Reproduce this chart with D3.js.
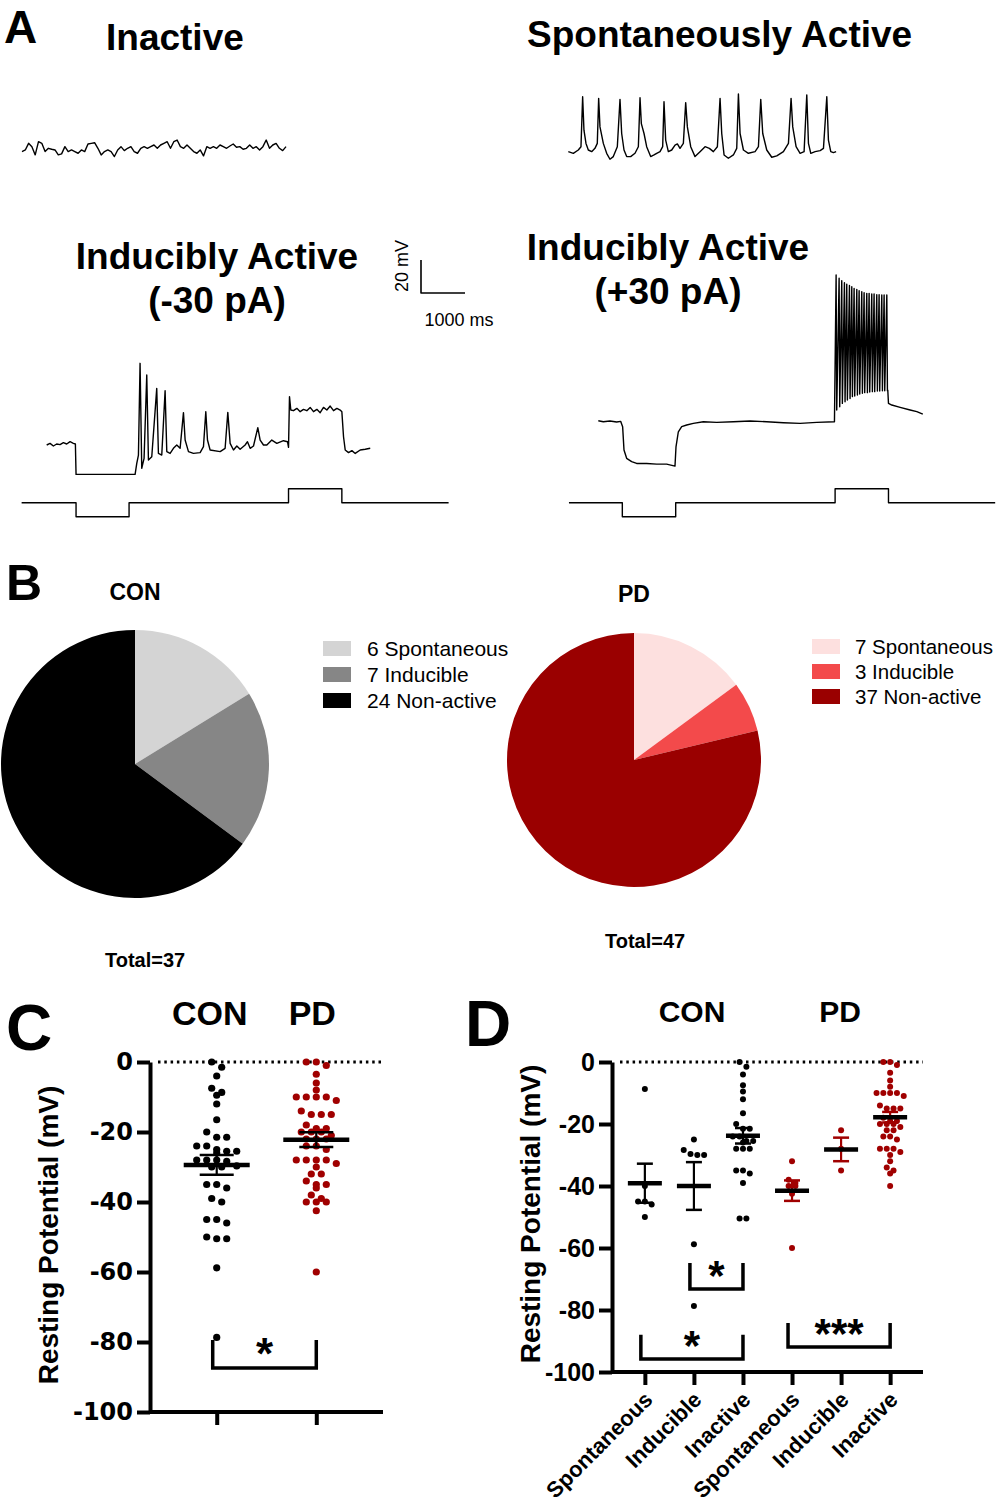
<!DOCTYPE html>
<html><head><meta charset="utf-8">
<script src="https://cdn.jsdelivr.net/npm/d3@7/dist/d3.min.js"></script>
<style>body{margin:0;background:#fff}svg{display:block}</style>
</head><body>
<svg id="fig" width="1000" height="1512"></svg>
<script>
// ---------------- DATA ----------------
// Panel A traces: time in ms, membrane potential in mV (relative to start level)
const inactiveDt = 75;
const inactiveTrace = [-2,-1,3,1,-4,4,3,-2,0,-0.6,-1,-4,-3.4,1,-2,-1,-2,-3,-1,-2,2.6,3,3.4,0,-4,-2,-1,-2,-5,-1,1,-1.4,0,1,-2,-3,0,1,0,1,2,0,2,3,4,0,4,5,1,0,2,0,-2,-3,-1,-4.6,1,0,1,0,2,1,0,1.4,2.6,0.6,1,-0.6,0,2,0,1,-1,1,5,0,2,3,0,-1.4,1];

const spontTrace = [[0,1],[114,0],[227,2],[288,4],[326,34.3],[356,14],[402,6],[455,2],[531,1],[606,3],[659,6],[690,33.3],[720,16],[796,6],[872,0],[947,-3.6],[1023,-2],[1114,4],[1175,32.7],[1213,12],[1266,2],[1327,-2],[1417,-2],[1516,0],[1592,4],[1630,33.7],[1660,18],[1721,12],[1781,4],[1872,-2],[1948,-1],[2009,0],[2085,1],[2145,4],[2175,31.3],[2213,8],[2274,1],[2350,2],[2426,5],[2479,5.7],[2539,3],[2615,6],[2668,30.7],[2706,16],[2782,4],[2880,-2],[2994,1],[3108,4],[3206,3],[3297,1],[3388,4],[3449,33.3],[3487,12],[3540,-1],[3638,-3],[3752,-1],[3828,3],[3866,36],[3904,12],[3980,2],[4093,0],[4245,1],[4321,4],[4374,32.7],[4419,12],[4510,2],[4624,-2.4],[4738,-1.6],[4889,1],[5003,6],[5063,33.3],[5101,16],[5177,4],[5268,0],[5359,1],[5420,35.4],[5458,6],[5511,0],[5610,1],[5723,1.6],[5799,3],[5875,34.3],[5912,8],[5965,1],[6026,0.4],[6087,1]];

const negTrace = [[0,0],[76,1],[152,-0.6],[227,0.6],[303,0.2],[379,1.4],[455,0.6],[531,2],[606,1],[652,0.6],[667,-17.8],[2009,-17.8],[2047,-11.1],[2085,-6.1],[2122,49.5],[2160,-14.1],[2213,-8.1],[2274,42.4],[2312,-9.1],[2388,-7.1],[2501,34.3],[2539,-5.1],[2615,-6.1],[2691,32.9],[2729,-4],[2805,-5.1],[2880,-2],[2956,0],[3032,-2],[3108,19.6],[3146,3],[3222,-4],[3335,-5.1],[3487,-4.6],[3563,-1],[3616,20.2],[3654,3],[3714,-3],[3942,-4],[4055,-2],[4116,19.8],[4169,1],[4245,-3],[4321,-0.6],[4396,-2.6],[4510,0],[4563,2],[4624,-2],[4700,-0.6],[4798,10.5],[4851,3],[4927,0],[5003,0],[5116,3],[5230,1],[5381,2.6],[5473,2],[5496,-1.4],[5518,29.3],[5548,21.2],[5609,20.8],[5685,22.2],[5761,20.2],[5836,21.6],[5912,20.8],[5988,22.8],[6064,20.2],[6140,21.6],[6215,19.6],[6291,22.8],[6367,21.2],[6443,23.6],[6519,20.8],[6595,22.2],[6670,21.2],[6708,20.2],[6746,5],[6784,-3],[6860,-4.6],[6936,-3.4],[7012,-5.1],[7125,-3],[7239,-2.6],[7353,-2]];
const negCurrent = [[-570,0],[667,-30],[1872,0],[5496,30],[6708,0],[9134,0]];

const posTracePre = [[0,0.6],[114,0],[265,0.4],[417,-0.2],[508,0.2],[553,-3],[584,-17.2],[644,-22.2],[758,-24.2],[872,-25.3],[1099,-25.3],[1327,-25.7],[1554,-25.7],[1743,-26.9],[1766,-15.2],[1819,-6.1],[1895,-3],[2009,-2],[2160,-1],[2388,0],[2691,-0.4],[3070,0],[3449,0.4],[3828,0],[4207,-0.6],[4586,-1],[4965,-0.4],[5367,0]];
const trainTimes = [5405,5473,5533,5594,5647,5708,5761,5814,5875,5928,5988,6041,6102,6155,6215,6268,6329,6382,6443,6496,6557];
const trainPeaks = [88.9,86.9,85.5,84.2,83.4,82.6,81.8,80.8,80.2,79.4,78.8,78.2,77.8,77.8,77.4,77.4,77,77,76.8,76.8,76.8];
const trainTroughs = [7.1,9.1,11.1,12.1,13.1,14.1,15.2,15.6,16.2,16.8,17.2,17.6,17.6,18,18.2,18.2,18.6,18.6,18.8,18.8,18.8];
const posTracePost = [[6579,19.2],[6595,11.1],[6670,10.1],[6860,8.7],[7087,7.1],[7239,6.1],[7375,4.6]];
const posCurrent = [[-667,0],[546,-30],[1759,0],[5382,30],[6595,0],[9020,0]];

// Panel B
const pieCategories = ["Spontaneous", "Inducible", "Non-active"];
const conCounts = [6, 7, 24];
const pdCounts = [7, 3, 37];
const conColors = ["#d4d4d4", "#868686", "#000000"];
const pdColors = ["#fde0df", "#f34a4b", "#9a0000"];

// Panel D groups (resting potential, mV)
const dCategories = ["Spontaneous", "Inducible", "Inactive", "Spontaneous", "Inducible", "Inactive"];
const conSpont = [-8.7, -40, -45, -45, -46, -50];
const conInduc = [-25, -28.4, -29.7, -30, -30, -58.8, -78.7];
const conInact = [0, -1.5, -4, -7.5, -9.5, -12, -16.5, -20, -21.5, -21.5, -24, -24, -25.5, -25.5, -26, -28, -28, -28, -35, -35, -36, -39, -50.5, -50.5];
const pdSpont = [-32, -38, -39, -40, -40, -42.5, -60];
const pdInduc = [-22, -28, -35];
const pdInact = [0, 0, -1, -3.5, -6, -8, -10, -10, -10, -10, -11, -14, -15, -15, -15, -18, -19, -19, -20, -20, -20, -21, -22, -22, -24, -24, -25, -28, -28, -28, -29, -30, -32, -34, -35, -36, -40];
const dMeans = [-39.1, -40.0, -23.8, -41.5, -28.2, -17.8];
const dSems = [6.3, 7.7, 2.5, 3.3, 3.8, 1.7];

// Panel C
const cCategories = ["CON", "PD"];
const cMeans = [-29.4, -22.2];
const cSems = [2.8, 2.1];

const yTicks = [0, -20, -40, -60, -80, -100];
const yTickLabels = ["0", "-20", "-40", "-60", "-80", "-100"];
const cSig = [{a: 0, b: 1, top: -79.4, bot: -87.4, label: "*"}];
const dSig = [{a: 0, b: 2, top: -88, bot: -95.8, label: "*"}, {a: 1, b: 2, top: -64.8, bot: -73.2, label: "*"}, {a: 3, b: 5, top: -84.2, bot: -91.9, label: "***"}];

// ---------------- DRAW ----------------
const FONT = "'Liberation Sans', Arial, Helvetica, sans-serif";
const WIDE = "'DejaVu Sans', 'Liberation Sans', Arial, sans-serif";
const RED = "#a00000";
const svg = d3.select("#fig").attr("font-family", FONT);
svg.append("rect").attr("width", 1000).attr("height", 1512).attr("fill", "#fff");

function txt(x, y, s, size, o = {}) {
  const t = svg.append("text").attr("x", x).attr("y", y).text(s)
    .attr("font-size", size).attr("font-weight", o.bold ? "bold" : "normal")
    .attr("text-anchor", o.anchor || "start").attr("fill", o.fill || "#000");
  if (o.transform) t.attr("transform", o.transform);
  if (o.family) t.attr("font-family", o.family);
  return t;
}

// ---- Panel A ----
txt(4, 43, "A", 46, {bold: true});
txt(106, 50, "Inactive", 37, {bold: true});
txt(527, 47, "Spontaneously Active", 37, {bold: true});
txt(217, 269, "Inducibly Active", 37, {bold: true, anchor: "middle"});
txt(217, 313, "(-30 pA)", 37, {bold: true, anchor: "middle"});
txt(668, 260, "Inducibly Active", 37, {bold: true, anchor: "middle"});
txt(668, 304, "(+30 pA)", 37, {bold: true, anchor: "middle"});

const MS_PX = 44 / 1000, MV_PX = 33 / 20, PA_PX = 14 / 30;
function tx(ox) { return d3.scaleLinear().domain([0, 1000]).range([ox, ox + 1000 * MS_PX]); }
function ty(oy) { return d3.scaleLinear().domain([0, 20]).range([oy, oy - 20 * MV_PX]); }
function cy(oy) { return d3.scaleLinear().domain([0, 30]).range([oy, oy - 30 * PA_PX]); }
const traceG = svg.append("g").attr("fill", "none").attr("stroke", "#000").attr("stroke-width", 1.4).attr("stroke-linejoin", "round");
function drawTrace(data, xs, ys, curve) {
  const line = d3.line().x(d => xs(d[0])).y(d => ys(d[1]));
  if (curve) line.curve(curve);
  traceG.append("path").attr("d", line(data));
}
{
  const xs = tx(22), ys = ty(148.3);
  traceG.append("path").attr("d", d3.line().x((d, i) => xs(i * inactiveDt)).y(d => ys(d))(inactiveTrace));
}
drawTrace(spontTrace, tx(568.3), ty(153.3));
drawTrace(negTrace, tx(46.7), ty(445));
drawTrace(negCurrent, tx(46.7), cy(502.7), d3.curveStepAfter);
{
  const train = [];
  trainTimes.forEach((t, i) => { train.push([t, trainPeaks[i]]); train.push([t + 14, trainTroughs[i]]); });
  drawTrace(posTracePre.concat(train, posTracePost), tx(598.3), ty(421.7));
}
drawTrace(posCurrent, tx(598.3), cy(502.7), d3.curveStepAfter);
{
  const xs = tx(421), ys = ty(293);
  traceG.append("path").attr("stroke-width", 1.6)
    .attr("d", `M${xs(0)},${ys(20)}V${ys(0)}H${xs(1000)}`);
  txt(0, 0, "20 mV", 18, {anchor: "middle", transform: `translate(408,266) rotate(-90)`});
  txt(459, 326, "1000 ms", 18, {anchor: "middle"});
}

// ---- Panel B ----
txt(6, 600, "B", 50, {bold: true});
function drawPie(cx, cyy, r, counts, colors, title, titleY, totalX, totalY, legX, legY0, legStep, legTextX, legSize) {
  const pie = d3.pie().sort(null).value(d => d)(counts);
  const arc = d3.arc().innerRadius(0).outerRadius(r);
  const g = svg.append("g").attr("transform", `translate(${cx},${cyy})`);
  g.selectAll("path").data(pie).join("path").attr("d", arc).attr("fill", (d, i) => colors[i]);
  txt(cx, titleY, title, 23, {bold: true, anchor: "middle"});
  txt(totalX, totalY, "Total=" + d3.sum(counts), 20, {bold: true});
  counts.forEach((c, i) => {
    const y0 = legY0 + i * legStep;
    svg.append("rect").attr("x", legX).attr("y", y0 - 15).attr("width", 28).attr("height", 15).attr("fill", colors[i]);
    txt(legTextX, y0, c + " " + pieCategories[i], legSize);
  });
}
drawPie(135, 764, 134, conCounts, conColors, "CON", 600, 105, 967, 323, 656, 26, 367, 21);
drawPie(634, 760, 127, pdCounts, pdColors, "PD", 602, 605, 948, 812, 654, 25, 855, 20.5);

// ---- helpers for scatter panels ----
function swarm(vals, y, cx, spacing, rowPx) {
  const pts = vals.map(v => ({v, py: y(v)})).sort((a, b) => a.py - b.py);
  const rows = []; let cur = null;
  pts.forEach(p => {
    if (!cur || p.py - cur.start > rowPx) { cur = {start: p.py, items: []}; rows.push(cur); }
    cur.items.push(p);
  });
  rows.forEach(r => { const n = r.items.length; r.items.forEach((p, i) => { p.px = cx + (i - (n - 1) / 2) * spacing; }); });
  return pts;
}
function yAxis(y, x0, size, family) {
  const g = svg.append("g").attr("transform", `translate(${x0},0)`)
    .call(d3.axisLeft(y).tickValues(yTicks).tickSize(13).tickSizeOuter(0).tickPadding(4)
      .tickFormat((d, i) => yTickLabels[i]));
  g.selectAll("path,line").attr("stroke", "#000").attr("stroke-width", 4);
  g.selectAll("text").attr("font-size", size).attr("font-weight", "bold").attr("font-family", family).attr("fill", "#000");
  return g;
}
function meanBar(cx, m, s, y, halfMean, halfCap, col) {
  svg.append("line").attr("x1", cx).attr("x2", cx).attr("y1", y(m + s)).attr("y2", y(m - s)).attr("stroke", col).attr("stroke-width", 2.2);
  [m + s, m - s].forEach(v => svg.append("line").attr("x1", cx - halfCap).attr("x2", cx + halfCap).attr("y1", y(v)).attr("y2", y(v)).attr("stroke", col).attr("stroke-width", 2.5));
  svg.append("line").attr("x1", cx - halfMean).attr("x2", cx + halfMean).attr("y1", y(m)).attr("y2", y(m)).attr("stroke", "#000").attr("stroke-width", 4.5);
}
function bracket(x1, x2, yTop, yBot, label, size) {
  svg.append("path").attr("d", `M${x1},${yTop}V${yBot}H${x2}V${yTop}`).attr("fill", "none").attr("stroke", "#000").attr("stroke-width", 3.5);
  txt((x1 + x2) / 2, yBot + 1, label, size, {bold: true, anchor: "middle"});
}

// ---- Panel C ----
txt(6, 1050, "C", 64, {bold: true});
{
  const y = d3.scaleLinear().domain([-100, 0]).range([1412, 1062]);
  const x = d3.scalePoint().domain(cCategories).range([150, 383]).padding(0.67);
  txt(x("CON") - 7, 1025, "CON", 34, {bold: true, anchor: "middle"});
  txt(x("PD") - 4, 1025, "PD", 34, {bold: true, anchor: "middle"});
  svg.append("line").attr("x1", 158).attr("x2", 383).attr("y1", y(0)).attr("y2", y(0))
    .attr("stroke", "#000").attr("stroke-width", 3).attr("stroke-dasharray", "2.5,3.8");
  const xa = svg.append("g").attr("transform", `translate(0,${y(-100)})`)
    .call(d3.axisBottom(x).tickSize(13).tickSizeOuter(0).tickFormat(""));
  xa.select("path").attr("d", `M150,0H383`);
  xa.selectAll("path,line").attr("stroke", "#000").attr("stroke-width", 4);
  yAxis(y, 150, 24, WIDE);
  txt(0, 0, "Resting Potential (mV)", 28, {bold: true, anchor: "middle", transform: "translate(58,1235) rotate(-90)"});
  const groups = [conSpont.concat(conInduc, conInact), pdSpont.concat(pdInduc, pdInact)];
  const cols = ["#000", RED];
  groups.forEach((vals, gi) => {
    const pts = swarm(vals, y, x(cCategories[gi]), 10, 6.5);
    svg.append("g").selectAll("circle").data(pts).join("circle")
      .attr("cx", d => d.px).attr("cy", d => d.py).attr("r", 3.6).attr("fill", cols[gi]);
  });
  cCategories.forEach((c, i) => meanBar(x(c), cMeans[i], cSems[i], y, 33, 17, "#000"));
  cSig.forEach(s => bracket(x(cCategories[s.a]) - 4, x(cCategories[s.b]), y(s.top), y(s.bot), s.label, 44));
}

// ---- Panel D ----
txt(465, 1046, "D", 64, {bold: true});
{
  const y = d3.scaleLinear().domain([-100, 0]).range([1372, 1062]);
  const idx = d3.range(dCategories.length);
  const x = d3.scalePoint().domain(idx).range([612, 923]).padding(0.67);
  txt(692, 1022, "CON", 30, {bold: true, anchor: "middle"});
  txt(840, 1022, "PD", 30, {bold: true, anchor: "middle"});
  svg.append("line").attr("x1", 620).attr("x2", 923).attr("y1", y(0)).attr("y2", y(0))
    .attr("stroke", "#000").attr("stroke-width", 3).attr("stroke-dasharray", "2.5,3.8");
  const xa = svg.append("g").attr("transform", `translate(0,${y(-100)})`)
    .call(d3.axisBottom(x).tickSize(13).tickSizeOuter(0).tickFormat(""));
  xa.select("path").attr("d", `M612,0H923`);
  xa.selectAll("path,line").attr("stroke", "#000").attr("stroke-width", 4);
  yAxis(y, 612, 25, FONT);
  txt(0, 0, "Resting Potential (mV)", 28, {bold: true, anchor: "middle", transform: "translate(540,1214) rotate(-90)"});
  idx.forEach(i => txt(0, 0, dCategories[i], 22, {bold: true, anchor: "end", transform: `translate(${x(i) + 9},1401) rotate(-45)`}));
  const groups = [conSpont, conInduc, conInact, pdSpont, pdInduc, pdInact];
  groups.forEach((vals, gi) => {
    const col = gi < 3 ? "#000" : RED;
    const pts = swarm(vals, y, x(gi), 6.8, 5.5);
    svg.append("g").selectAll("circle").data(pts).join("circle")
      .attr("cx", d => d.px).attr("cy", d => d.py).attr("r", 3).attr("fill", col);
  });
  idx.forEach(i => meanBar(x(i), dMeans[i], dSems[i], y, 17, 8, i < 3 ? "#000" : RED));
  dSig.forEach(s => bracket(x(s.a) - 4, x(s.b), y(s.top), y(s.bot), s.label, 42));
}
</script></body></html>
